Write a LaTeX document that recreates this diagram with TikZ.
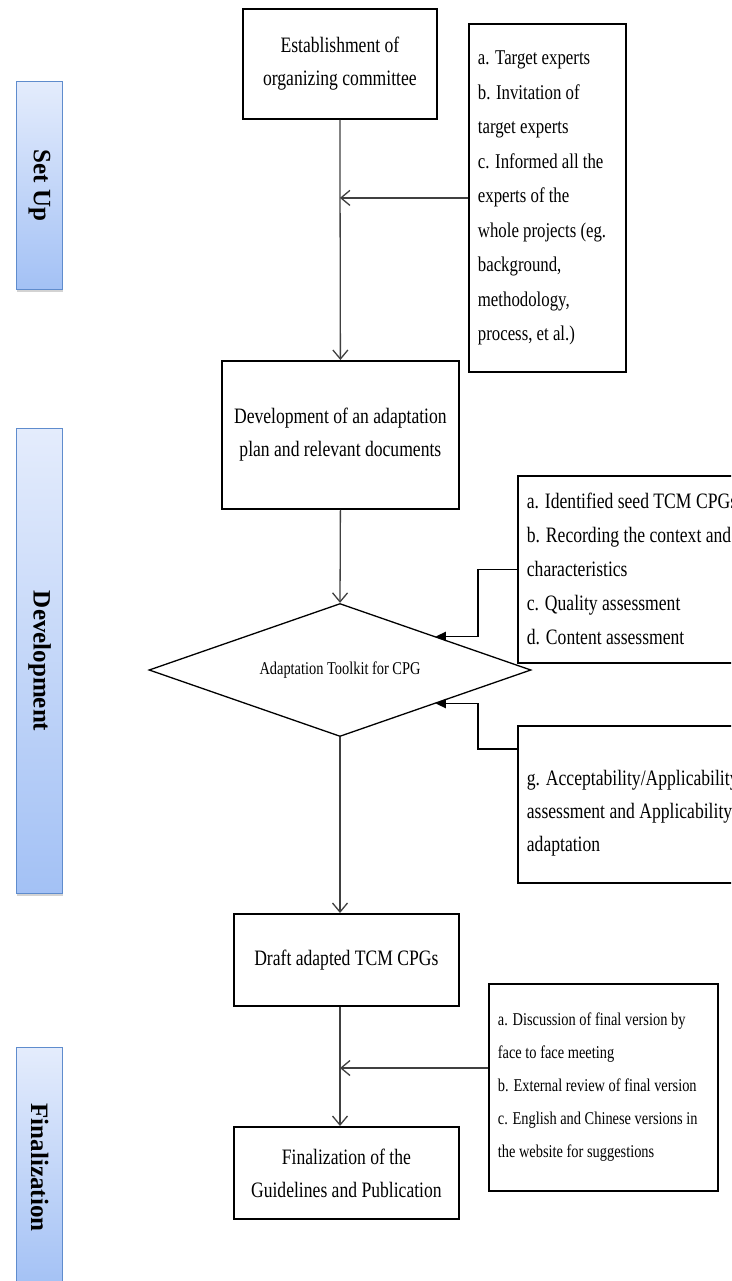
\documentclass[tikz,border=0pt]{standalone}
\usepackage{fontspec}
\setmainfont{Liberation Serif}
\newfontfamily\narrowfont{Liberation Serif}[FakeStretch=0.8]
\usetikzlibrary{arrows.meta, shapes.geometric, positioning, calc, shadows}
\definecolor{bandtop}{RGB}{228,236,252}
\definecolor{bandbottom}{RGB}{163,193,245}
\definecolor{bandedge}{RGB}{95,140,205}

\begin{document}
\begin{tikzpicture}[x=1pt, y=-1pt,
    stepbox/.style={draw, line width=1.8pt, anchor=north west, align=center, inner sep=6pt, font=\fontsize{22}{33}\selectfont\narrowfont},
    notebox/.style={draw, line width=1.8pt, anchor=north west, align=flush left, inner xsep=9pt, font=\fontsize{21}{34.5}\selectfont\narrowfont},
    band/.style={draw=bandedge, line width=1.2pt, top color=bandtop, bottom color=bandbottom, anchor=north west, minimum width=46pt, drop shadow={shadow xshift=0.5pt, shadow yshift=-2.5pt, opacity=0.35}},
    bandtext/.style={rotate=-90, font=\fontsize{25}{25}\selectfont\bfseries},
    flow/.style={draw=black!75, line width=1.3pt, -{Straight Barb[length=9pt, width=15pt]}},
    feed/.style={line width=1.8pt, -{Triangle[length=10pt, width=9pt]}}]
  \useasboundingbox (0,0) rectangle (731,1281);
  \clip (0,0) rectangle (731,1281);

  % phases
  \node[band, minimum height=208pt] (setup) at (16,81) {};
  \node[band, minimum height=465pt] (develop) at (16,428) {};
  \node[band, minimum height=240pt] (finalize) at (16,1047) {};
  \node[bandtext] at (setup.center) {Set Up};
  \node[bandtext] at (develop.center) {Development};
  \node[bandtext] at (finalize.center) {Finalization};

  % main steps
  \node[stepbox, minimum width=194pt, minimum height=110pt] (estab) at (242,8) {Establishment of\\organizing committee};
  \node[stepbox, minimum width=237pt, minimum height=148pt] (plan) at (221,360) {Development of an adaptation\\plan and relevant documents};
  \node[draw, diamond, aspect=2.87, line width=1.3pt, minimum width=382pt, minimum height=133pt, inner sep=0pt, font=\fontsize{18}{18}\selectfont\narrowfont] (dia) at (340,670) {Adaptation Toolkit for CPG};
  \node[stepbox, minimum width=225pt, minimum height=92pt] (draft) at (233,913) {Draft adapted TCM CPGs};
  \node[stepbox, minimum width=225pt, minimum height=92pt] (final) at (233,1126) {Finalization of the\\Guidelines and Publication};

  % notes
  \node[notebox, minimum height=348pt, text width=139pt] (experts) at (468,23) {a. Target experts\\b. Invitation of\\target experts\\c. Informed all the\\experts of the\\whole projects (eg.\\background,\\methodology,\\process, et al.)};
  \node[notebox, minimum height=187pt, text width=260pt, font=\fontsize{22}{34}\selectfont\narrowfont] (seed) at (517,475) {a. Identified seed TCM CPGs\\b. Recording the context and\\characteristics\\c. Quality assessment\\d. Content assessment};
  \node[notebox, minimum height=157pt, text width=260pt, font=\fontsize{22}{33}\selectfont\narrowfont] (accept) at (517,725) {\rule{0pt}{32pt}g. Acceptability/Applicability\\assessment and Applicability\\adaptation};
  \node[notebox, minimum height=207pt, text width=211pt, font=\fontsize{18}{33}\selectfont\narrowfont] (review) at (488,983) {a. Discussion of final version by\\face to face meeting\\b. External review of final version\\c. English and Chinese versions in\\the website for suggestions};

  \coordinate (j1) at (estab.south |- experts.west);
  \coordinate (r4) at ([yshift=-85pt]review.north west);
  \coordinate (j4) at (dia.south |- r4);

  \draw[flow] (estab.south) -- (plan.north);
  \draw[flow] (plan.south) -- (dia.north);
  \draw[flow] (dia.south) -- (dia.south |- draft.north);
  \draw[flow] (dia.south |- draft.south) -- (dia.south |- final.north);
  \draw[flow] (experts.west) -- (j1);
  \draw[flow] (r4) -- (j4);
  \draw[feed] (seed.west) -- ++(-39,0) |- (dia.north east);
  \draw[feed] ([yshift=-24pt]accept.north west) -- ++(-39,0) |- (dia.south east);
\end{tikzpicture}
\end{document}
